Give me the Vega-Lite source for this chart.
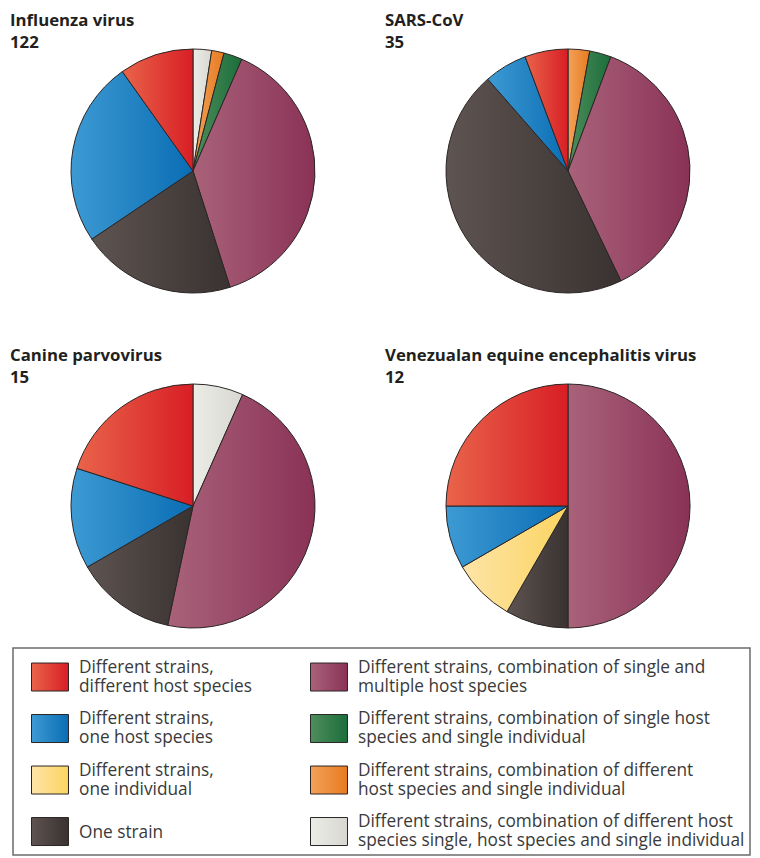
{
  "$schema": "https://vega.github.io/schema/vega-lite/v6.json",
  "padding": {"left": 10, "top": 13, "right": 0, "bottom": 0},
  "background": "white",
  "data": {
    "values": [
      {"virus": "Influenza virus|122", "category": "Different strains, combination of different host species single, host species and single individual", "order": 1, "n": 3},
      {"virus": "Influenza virus|122", "category": "Different strains, combination of different host species and single individual", "order": 2, "n": 2},
      {"virus": "Influenza virus|122", "category": "Different strains, combination of single host species and single individual", "order": 3, "n": 3},
      {"virus": "Influenza virus|122", "category": "Different strains, combination of single and multiple host species", "order": 4, "n": 47},
      {"virus": "Influenza virus|122", "category": "One strain", "order": 5, "n": 25},
      {"virus": "Influenza virus|122", "category": "Different strains, one host species", "order": 7, "n": 30},
      {"virus": "Influenza virus|122", "category": "Different strains, different host species", "order": 8, "n": 12},
      {"virus": "SARS-CoV|35", "category": "Different strains, combination of different host species and single individual", "order": 2, "n": 1},
      {"virus": "SARS-CoV|35", "category": "Different strains, combination of single host species and single individual", "order": 3, "n": 1},
      {"virus": "SARS-CoV|35", "category": "Different strains, combination of single and multiple host species", "order": 4, "n": 13},
      {"virus": "SARS-CoV|35", "category": "One strain", "order": 5, "n": 16},
      {"virus": "SARS-CoV|35", "category": "Different strains, one host species", "order": 7, "n": 2},
      {"virus": "SARS-CoV|35", "category": "Different strains, different host species", "order": 8, "n": 2},
      {"virus": "Canine parvovirus|15", "category": "Different strains, combination of different host species single, host species and single individual", "order": 1, "n": 1},
      {"virus": "Canine parvovirus|15", "category": "Different strains, combination of single and multiple host species", "order": 4, "n": 7},
      {"virus": "Canine parvovirus|15", "category": "One strain", "order": 5, "n": 2},
      {"virus": "Canine parvovirus|15", "category": "Different strains, one host species", "order": 7, "n": 2},
      {"virus": "Canine parvovirus|15", "category": "Different strains, different host species", "order": 8, "n": 3},
      {"virus": "Venezualan equine encephalitis virus|12", "category": "Different strains, combination of single and multiple host species", "order": 4, "n": 6},
      {"virus": "Venezualan equine encephalitis virus|12", "category": "One strain", "order": 5, "n": 1},
      {"virus": "Venezualan equine encephalitis virus|12", "category": "Different strains, one individual", "order": 6, "n": 1},
      {"virus": "Venezualan equine encephalitis virus|12", "category": "Different strains, one host species", "order": 7, "n": 1},
      {"virus": "Venezualan equine encephalitis virus|12", "category": "Different strains, different host species", "order": 8, "n": 3}
    ]
  },
  "facet": {
    "field": "virus",
    "type": "nominal",
    "sort": ["Influenza virus|122", "SARS-CoV|35", "Canine parvovirus|15", "Venezualan equine encephalitis virus|12"],
    "header": {
      "title": null,
      "labelExpr": "split(datum.value, '|')",
      "labelOrient": "top",
      "labelAnchor": "start",
      "labelAlign": "left",
      "labelFont": "Open Sans",
      "labelFontWeight": "bold",
      "labelFontSize": 16.75,
      "labelLineHeight": 22,
      "labelColor": "#231f20",
      "labelPadding": -5
    }
  },
  "columns": 2,
  "spacing": {"column": 9, "row": 53},
  "spec": {
    "width": 366,
    "height": 244,
    "mark": {"type": "arc", "stroke": "#2b2626", "strokeWidth": 1},
    "encoding": {
      "theta": {"field": "n", "type": "quantitative", "stack": true},
      "order": {"field": "order", "type": "quantitative", "sort": "ascending"},
      "fill": {
        "field": "category",
        "type": "nominal",
        "scale": {
          "domain": [
            "Different strains, different host species",
            "Different strains, combination of single and multiple host species",
            "Different strains, one host species",
            "Different strains, combination of single host species and single individual",
            "Different strains, one individual",
            "Different strains, combination of different host species and single individual",
            "One strain",
            "Different strains, combination of different host species single, host species and single individual"
          ],
          "range": [
            {"expr": "{gradient:'linear',x1:0,y1:0,x2:1,y2:0,stops:[{offset:0,color:'#e9644a'},{offset:1,color:'#d81e25'}]}"},
            {"expr": "{gradient:'linear',x1:0,y1:0,x2:1,y2:0,stops:[{offset:0,color:'#a9627a'},{offset:1,color:'#8a3256'}]}"},
            {"expr": "{gradient:'linear',x1:0,y1:0,x2:1,y2:0,stops:[{offset:0,color:'#3d9ad3'},{offset:1,color:'#0a6db4'}]}"},
            {"expr": "{gradient:'linear',x1:0,y1:0,x2:1,y2:0,stops:[{offset:0,color:'#4f8d5c'},{offset:1,color:'#1b6e3b'}]}"},
            {"expr": "{gradient:'linear',x1:0,y1:0,x2:1,y2:0,stops:[{offset:0,color:'#fee4a8'},{offset:1,color:'#fbd460'}]}"},
            {"expr": "{gradient:'linear',x1:0,y1:0,x2:1,y2:0,stops:[{offset:0,color:'#f3a15a'},{offset:1,color:'#e77b1f'}]}"},
            {"expr": "{gradient:'linear',x1:0,y1:0,x2:1,y2:0,stops:[{offset:0,color:'#5e5451'},{offset:1,color:'#393230'}]}"},
            {"expr": "{gradient:'linear',x1:0,y1:0,x2:1,y2:0,stops:[{offset:0,color:'#ecece7'},{offset:1,color:'#d8d8d1'}]}"}
          ]
        },
        "legend": {
          "title": null,
          "orient": "none",
          "legendX": 3,
          "legendY": 599,
          "columns": 2,
          "direction": "horizontal",
          "columnPadding": 45,
          "rowPadding": 9.5,
          "padding": 5,
          "strokeColor": "#6b6b6b",
          "fillColor": "white",
          "symbolType": "M-0.071,-0.32H2.571V1.68H-0.071Z",
          "symbolSize": 784,
          "symbolStrokeColor": "#2b2626",
          "symbolStrokeWidth": 1,
          "symbolOpacity": 1,
          "labelOffset": 32,
          "labelFont": "Open Sans",
          "labelFontSize": 17.25,
          "labelLineHeight": 22,
          "labelColor": "#3a3a3a",
          "labelLimit": 0,
          "labelExpr": "split(replace(replace(replace(replace(replace(replace(datum.label, 'strains, different host', 'strains,|different host'), 'strains, one', 'strains,|one'), 'and multiple', 'and|multiple'), 'single host species', 'single host|species'), 'different host species and', 'different|host species and'), 'different host species single', 'different host|species single'), '|')",
          "encode": {
            "labels": {
              "update": {
                "dy": {"signal": "datum.value == 'One strain' ? 11 : 0"}
              }
            }
          }
        }
      }
    }
  },
  "config": {
    "view": {"stroke": null},
    "font": "Open Sans",
    "legend": {"strokeWidth": 1.5}
  }
}
